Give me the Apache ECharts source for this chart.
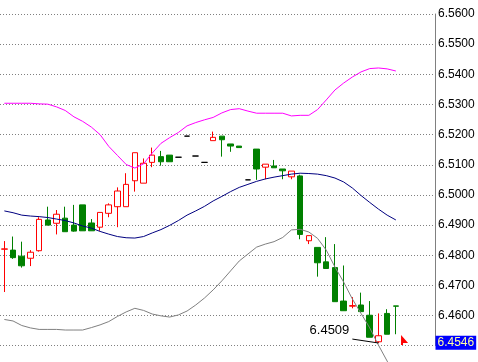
<!DOCTYPE html>
<html><head><meta charset="utf-8">
<script src="https://cdn.jsdelivr.net/npm/echarts@6/dist/echarts.min.js"></script>
<style>html,body{margin:0;padding:0;background:#fff}#c{width:478px;height:362px}</style>
</head><body><div id="c"></div>
<script>
// ---- data ----
const barCount = 50; // 46 bars + empty right shift
const categories = Array.from({length: barCount}, (_, i) => 'B' + (i + 1));

const open  = [6.4820,6.4817,6.4797,6.4790,6.4815,6.4917,6.4906,6.4923,6.4900,6.4967,
               6.4907,6.4893,6.4939,6.4961,6.4961,6.5047,6.5039,6.5108,6.5127,6.5132,
               6.5125,6.5195,6.5129,6.5108,6.5180,6.5195,6.5169,6.5162,6.5050,6.5152,
               6.5092,6.5096,6.5086,6.5060,6.5063,6.4848,6.4826,6.4778,6.4759,6.4648,
               6.4631,6.4635,6.4601,6.4513,6.4607,6.4632];
const high  = [6.4847,6.4862,6.4845,6.4817,6.4926,6.4961,6.4950,6.4961,6.4967,6.4967,
               6.4920,6.4942,6.4972,6.5025,6.5072,6.5140,6.5121,6.5157,6.5146,6.5132,
               6.5125,6.5195,6.5129,6.5108,6.5210,6.5195,6.5169,6.5162,6.5050,6.5152,
               6.5102,6.5116,6.5086,6.5079,6.5067,6.4865,6.4826,6.4860,6.4837,6.4766,
               6.4661,6.4676,6.4648,6.4607,6.4621,6.4632];
const low   = [6.4678,6.4788,6.4759,6.4764,6.4812,6.4899,6.4869,6.4878,6.4878,6.4881,
               6.4881,6.4881,6.4926,6.4893,6.4961,6.5011,6.5039,6.5092,6.5097,6.5110,
               6.5125,6.5195,6.5129,6.5108,6.5180,6.5127,6.5143,6.5157,6.5050,6.5050,
               6.5052,6.5090,6.5052,6.5052,6.4853,6.4837,6.4729,6.4756,6.4646,6.4616,
               6.4624,6.4613,6.4528,6.4509,6.4538,6.4538];
const close = [6.4821,6.4792,6.4765,6.4810,6.4919,6.4900,6.4936,6.4878,6.4880,6.4881,
               6.4881,6.4942,6.4967,6.5013,6.5035,6.5140,6.5105,6.5132,6.5110,6.5110,
               6.5125,6.5195,6.5129,6.5108,6.5191,6.5183,6.5162,6.5157,6.5050,6.5086,
               6.5102,6.5090,6.5080,6.5079,6.4869,6.4865,6.4775,6.4756,6.4646,6.4616,
               6.4633,6.4613,6.4528,6.4533,6.4538,6.4631];

const upperBand  = [6.5304,6.5304,6.5304,6.5304,6.5302,6.5301,6.5292,6.5280,6.5259,6.5244,
                    6.5225,6.5200,6.5161,6.5131,6.5101,6.5089,6.5103,6.5139,6.5171,6.5190,
                    6.5207,6.5229,6.5240,6.5249,6.5257,6.5272,6.5283,6.5286,6.5278,6.5271,
                    6.5271,6.5271,6.5271,6.5262,6.5264,6.5264,6.5283,6.5315,6.5348,6.5371,
                    6.5391,6.5408,6.5419,6.5421,6.5418,6.5411];
const middleBand = [6.4947,6.4941,6.4933,6.4930,6.4928,6.4925,6.4920,6.4915,6.4907,6.4897,
                    6.4890,6.4879,6.4870,6.4862,6.4858,6.4857,6.4862,6.4874,6.4885,6.4899,
                    6.4915,6.4933,6.4947,6.4962,6.4980,6.4995,6.5011,6.5025,6.5035,6.5045,
                    6.5053,6.5059,6.5064,6.5069,6.5072,6.5071,6.5069,6.5064,6.5056,6.5043,
                    6.5023,6.4998,6.4975,6.4953,6.4933,6.4917];
const lowerBand  = [6.4587,6.4582,6.4567,6.4559,6.4554,6.4554,6.4554,6.4552,6.4552,6.4552,
                    6.4560,6.4569,6.4580,6.4597,6.4612,6.4624,6.4617,6.4605,6.4599,6.4595,
                    6.4602,6.4615,6.4635,6.4658,6.4685,6.4715,6.4748,6.4781,6.4804,6.4827,
                    6.4837,6.4845,6.4859,6.4884,6.4886,6.4877,6.4856,6.4817,6.4761,6.4711,
                    6.4655,6.4607,6.4559,6.4502,6.4449,6.4396];

const yMin = 6.45, yMax = 6.56, yStep = 0.01;
const lowestIndex = 43, lowestPrice = 6.4509;
const lowestLineStart = [40, 6.4522];
const lastPrice = 6.4546;
const askIndex = 46, askLevel = 6.4519;

// ---- chart ----
const candleData = open.map((o, i) => [o, close[i], low[i], high[i]]);
const chart = echarts.init(document.getElementById('c'));
const FONT = 'Liberation Sans, Arial, sans-serif';

chart.setOption({
  animation: false,
  backgroundColor: '#ffffff',
  grid: {left: -2.9, right: 43, top: 14, bottom: 16.3},
  xAxis: {type: 'category', data: categories, boundaryGap: true, show: false},
  yAxis: {
    type: 'value', position: 'right', min: yMin, max: yMax, interval: yStep,
    axisLine: {show: true, lineStyle: {color: '#808080', width: 1}},
    axisTick: {show: false},
    axisLabel: {margin: 3, color: '#000', fontFamily: FONT, fontSize: 12,
                padding: [5, 0, 0, 0], formatter: v => v.toFixed(4)},
    splitLine: {show: true, lineStyle: {color: '#808080', type: [1, 2], width: 1}}
  },
  series: [
    {
      type: 'candlestick', data: candleData, barWidth: 6, z: 2,
      itemStyle: {color: '#ffffff', color0: '#008000', borderColor: '#ff0000',
                  borderColor0: '#008000', borderColorDoji: '#000000', borderWidth: 1},
      markLine: {
        silent: true, symbol: ['none', 'none'], animation: false,
        data: [
          [{coord: [categories[lowestLineStart[0]], lowestLineStart[1]],
            lineStyle: {color: '#000', width: 1, type: 'solid'}, label: {show: false}},
           {coord: [categories[lowestIndex], lowestPrice]}]
        ]
      },
      markPoint: {
        silent: true, animation: false,
        data: [
          {coord: [categories[lowestIndex], lowestPrice], symbol: 'circle', symbolSize: 0,
           label: {show: true, formatter: lowestPrice.toFixed(4), offset: [-49, -13],
                   color: '#000', fontFamily: FONT, fontSize: 13}},
          {coord: [categories[askIndex], askLevel], symbol: 'path://M0,0 L7,8 L2,8 L2,10 L0,10 Z',
           symbolSize: [7, 10], itemStyle: {color: '#ff0000'}, label: {show: false}}
        ]
      }
    },
    {type: 'line', data: upperBand, symbol: 'none', clip: false, z: 3,
     lineStyle: {color: '#ff00ff', width: 1}},
    {type: 'line', data: middleBand, symbol: 'none', clip: false, z: 3,
     lineStyle: {color: '#000080', width: 1}},
    {type: 'line', data: lowerBand, symbol: 'none', clip: false, z: 3,
     lineStyle: {color: '#808080', width: 1},
     markLine: {
       silent: true, symbol: ['none', 'none'], animation: false, z: 10,
       lineStyle: {color: 'rgba(0,0,0,0)', width: 1},
       label: {show: true, position: 'end', distance: 0.5, formatter: lastPrice.toFixed(4),
               backgroundColor: '#0000ff', color: '#ffffa0', fontFamily: FONT, fontSize: 12,
               lineHeight: 13, padding: [1, 2, 0, 2], offset: [0, -3]},
       data: [{yAxis: lastPrice}]
     }}
  ]
});
</script></body></html>
